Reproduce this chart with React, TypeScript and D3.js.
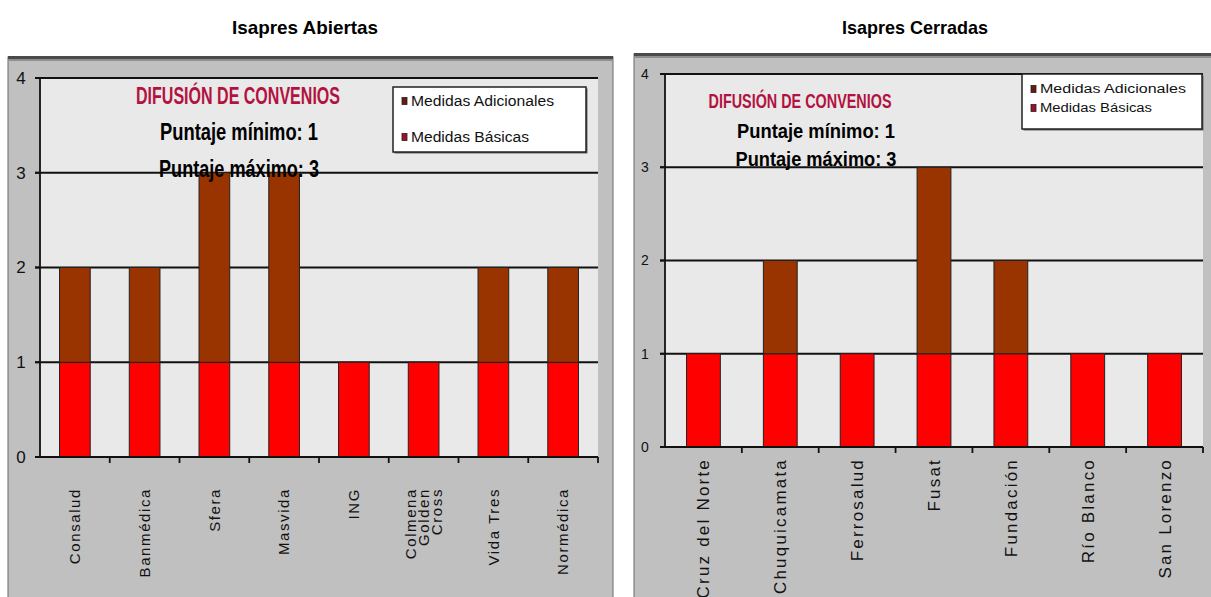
import React from "react";
import * as d3 from "d3";

// ---------- DATA ----------
const LEFT_TITLE = "Isapres Abiertas";
const LEFT_CATEGORIES = ["Consalud", "Banmédica", "Sfera", "Masvida", "ING", "Colmena\nGolden\nCross", "Vida Tres", "Normédica"];
const LEFT_BASICAS = [1, 1, 1, 1, 1, 1, 1, 1];
const LEFT_ADICIONALES = [1, 1, 2, 2, 0, 0, 1, 1];

const RIGHT_TITLE = "Isapres Cerradas";
const RIGHT_CATEGORIES = ["Cruz del Norte", "Chuquicamata", "Ferrosalud", "Fusat", "Fundación", "Río Blanco", "San Lorenzo"];
const RIGHT_BASICAS = [1, 1, 1, 1, 1, 1, 1];
const RIGHT_ADICIONALES = [0, 1, 0, 2, 1, 0, 0];

const Y_TICKS = [0, 1, 2, 3, 4];
const SERIES_NAMES = ["Medidas Adicionales", "Medidas Básicas"];
const INNER_TITLE = "DIFUSIÓN DE CONVENIOS";
const NOTE_MIN = "Puntaje mínimo: 1";
const NOTE_MAX = "Puntaje máximo: 3";

// ---------- STYLE ----------
const RED = "#ff0000";
const BROWN = "#993300";
const PANEL = "#c0c0c0";
const PLOT = "#e9e9e9";
const CRIMSON = "#b3123f";
const NARROW = "'Liberation Sans Narrow','Arial Narrow','Liberation Sans',Arial,sans-serif";
const SANS = "'Liberation Sans',Arial,Helvetica,sans-serif";

type Layout = {
  panelX: number; panelY: number; panelW: number; panelH: number;
  axisX: number; plotRight: number; y0: number; y4: number;
  titleX: number; titleY: number;
  labelTop: number; labelSize: number; labelSpacing: number; labelWeight: string;
  yLabelX: number; yLabelSize: number;
  difX: number; difY: number; difW: number; difSize: number;
  minX: number; minY: number; minW: number; maxY: number; maxW: number; noteSize: number;
  legX: number; legY: number; legW: number; legH: number; legRow1: number; legRow2: number; legSize: number; legTextW1: number; legTextW2: number;
};

const LEFT_LAYOUT: Layout = {
  panelX: 8, panelY: 57, panelW: 605, panelH: 560,
  axisX: 40, plotRight: 598, y0: 457, y4: 78,
  titleX: 305, titleY: 34,
  labelTop: 488, labelSize: 15, labelSpacing: 1.6, labelWeight: "normal",
  yLabelX: 21, yLabelSize: 17,
  difX: 238, difY: 104, difW: 204, difSize: 24,
  minX: 239, minY: 140, minW: 158, maxY: 177, maxW: 160, noteSize: 23,
  legX: 393, legY: 87, legW: 193, legH: 65, legRow1: 101, legRow2: 137, legSize: 14, legTextW1: 143, legTextW2: 118,
};

const RIGHT_LAYOUT: Layout = {
  panelX: 634, panelY: 54, panelW: 590, panelH: 560,
  axisX: 665, plotRight: 1203, y0: 447, y4: 74,
  titleX: 915, titleY: 34,
  labelTop: 458, labelSize: 17, labelSpacing: 2.2, labelWeight: "normal",
  yLabelX: 645, yLabelSize: 14,
  difX: 800, difY: 108, difW: 183, difSize: 21,
  minX: 816, minY: 138, minW: 158, maxY: 166, maxW: 161, noteSize: 20,
  legX: 1022, legY: 74, legW: 180, legH: 55, legRow1: 89, legRow2: 108, legSize: 12, legTextW1: 146, legTextW2: 112,
};

function Chart({ title, categories, basicas, adicionales, L }: { title: string; categories: string[]; basicas: number[]; adicionales: number[]; L: Layout }) {
  const x = d3.scaleBand<string>().domain(categories).range([L.axisX, L.plotRight]).paddingInner(0).paddingOuter(0);
  const y = d3.scaleLinear().domain([0, 4]).range([L.y0, L.y4]);
  const rows = categories.map((c, i) => ({ cat: c, basicas: basicas[i], adicionales: adicionales[i] }));
  const stack = d3.stack<any>().keys(["basicas", "adicionales"]);
  const layers = stack(rows);
  const bw = x.bandwidth() * 0.44;
  const colors: Record<string, string> = { basicas: RED, adicionales: BROWN };

  return (
    <g>
      <text x={L.titleX} y={L.titleY} textAnchor="middle" fontFamily={SANS} fontWeight="bold" fontSize={19} fill="#000" textLength={146} lengthAdjust="spacingAndGlyphs">{title}</text>
      {/* panel */}
      <rect x={L.panelX} y={L.panelY} width={L.panelW} height={L.panelH} fill={PANEL} stroke="#6a6a6a" strokeWidth={1} />
      <rect x={L.panelX} y={L.panelY - 1} width={L.panelW} height={3} fill="#4a4a4a" />
      <rect x={L.panelX} y={L.panelY + 2} width={L.panelW} height={2} fill="#8f8f8f" />
      {/* plot area */}
      <rect x={L.axisX} y={y(4)} width={L.plotRight - L.axisX} height={y(0) - y(4)} fill={PLOT} />
      {/* gridlines */}
      {Y_TICKS.filter((t) => t > 0).map((t) => (
        <line key={t} x1={L.axisX - 5} x2={L.plotRight} y1={y(t)} y2={y(t)} stroke="#111" strokeWidth={1.8} />
      ))}
      {/* bars */}
      {layers.map((layer) => (
        <g key={layer.key}>
          {layer.map((d, i) =>
            d[1] - d[0] > 0 ? (
              <rect key={i} x={(x(categories[i]) as number) + (x.bandwidth() - bw) / 2} y={y(d[1])} width={bw} height={y(d[0]) - y(d[1])} fill={colors[layer.key]} stroke="#222" strokeWidth={1} />
            ) : null
          )}
        </g>
      ))}
      {/* axes */}
      <line x1={L.axisX} x2={L.axisX} y1={y(4) - 1} y2={y(0) + 1} stroke="#111" strokeWidth={1.8} />
      <line x1={L.axisX - 5} x2={L.plotRight} y1={y(0)} y2={y(0)} stroke="#111" strokeWidth={2.2} />
      {Y_TICKS.map((t) => (
        <g key={t}>
          <line x1={L.axisX - 5} x2={L.axisX} y1={y(t)} y2={y(t)} stroke="#111" strokeWidth={1.8} />
          <text x={L.yLabelX} y={y(t)} dy="0.35em" textAnchor="middle" fontFamily={NARROW} fontSize={L.yLabelSize} fill="#111">{t}</text>
        </g>
      ))}
      {categories.map((c, i) => (
        <line key={"t" + i} x1={(x(c) as number) + x.bandwidth()} x2={(x(c) as number) + x.bandwidth()} y1={y(0)} y2={y(0) + 6} stroke="#111" strokeWidth={1.8} />
      ))}
      {/* x labels */}
      {categories.map((c) => {
        const lines = c.split("\n");
        const cx = (x(c) as number) + x.bandwidth() / 2;
        const step = L.labelSize * 0.85;
        return (
          <g key={c} transform={`translate(${cx},${L.labelTop}) rotate(-90)`}>
            {lines.map((ln, j) => (
              <text key={j} x={0} y={(j - (lines.length - 1) / 2) * step} dy="0.35em" textAnchor="end" fontFamily={SANS} fontWeight={L.labelWeight} fontSize={L.labelSize} letterSpacing={L.labelSpacing} fill="#111">{ln}</text>
            ))}
          </g>
        );
      })}
      {/* overlay texts */}
      <text x={L.difX} y={L.difY} textAnchor="middle" fontFamily={NARROW} fontWeight="bold" fontSize={L.difSize} fill={CRIMSON} textLength={L.difW} lengthAdjust="spacingAndGlyphs">{INNER_TITLE}</text>
      <text x={L.minX} y={L.minY} textAnchor="middle" fontFamily={NARROW} fontWeight="bold" fontSize={L.noteSize} fill="#000" textLength={L.minW} lengthAdjust="spacingAndGlyphs">{NOTE_MIN}</text>
      <text x={L.minX} y={L.maxY} textAnchor="middle" fontFamily={NARROW} fontWeight="bold" fontSize={L.noteSize} fill="#000" textLength={L.maxW} lengthAdjust="spacingAndGlyphs">{NOTE_MAX}</text>
      {/* legend */}
      <rect x={L.legX + 1.5} y={L.legY + 1.5} width={L.legW} height={L.legH} fill="#666" />
      <rect x={L.legX} y={L.legY} width={L.legW} height={L.legH} fill="#fff" stroke="#222" strokeWidth={1.5} />
      {SERIES_NAMES.map((s, k) => {
        const ry = k === 0 ? L.legRow1 : L.legRow2;
        const tx = L.legX + 18;
        return (
          <g key={s}>
            <rect x={L.legX + 9} y={ry - 3.5} width={5} height={7} fill={k === 0 ? "#6b1a10" : "#a0102a"} stroke="#222" strokeWidth={0.8} />
            <text x={tx} y={ry} dy="0.35em" fontFamily={NARROW} fontSize={L.legSize} fill="#111" textLength={k === 0 ? L.legTextW1 : L.legTextW2} lengthAdjust="spacingAndGlyphs">{s}</text>
          </g>
        );
      })}
    </g>
  );
}

export default function App() {
  return (
    <svg width={1211} height={597} style={{ position: "absolute", left: 0, top: 0, background: "#fff" }}>
      <rect x={0} y={0} width={1211} height={597} fill="#fff" />
      <Chart title={LEFT_TITLE} categories={LEFT_CATEGORIES} basicas={LEFT_BASICAS} adicionales={LEFT_ADICIONALES} L={LEFT_LAYOUT} />
      <Chart title={RIGHT_TITLE} categories={RIGHT_CATEGORIES} basicas={RIGHT_BASICAS} adicionales={RIGHT_ADICIONALES} L={RIGHT_LAYOUT} />
    </svg>
  );
}
